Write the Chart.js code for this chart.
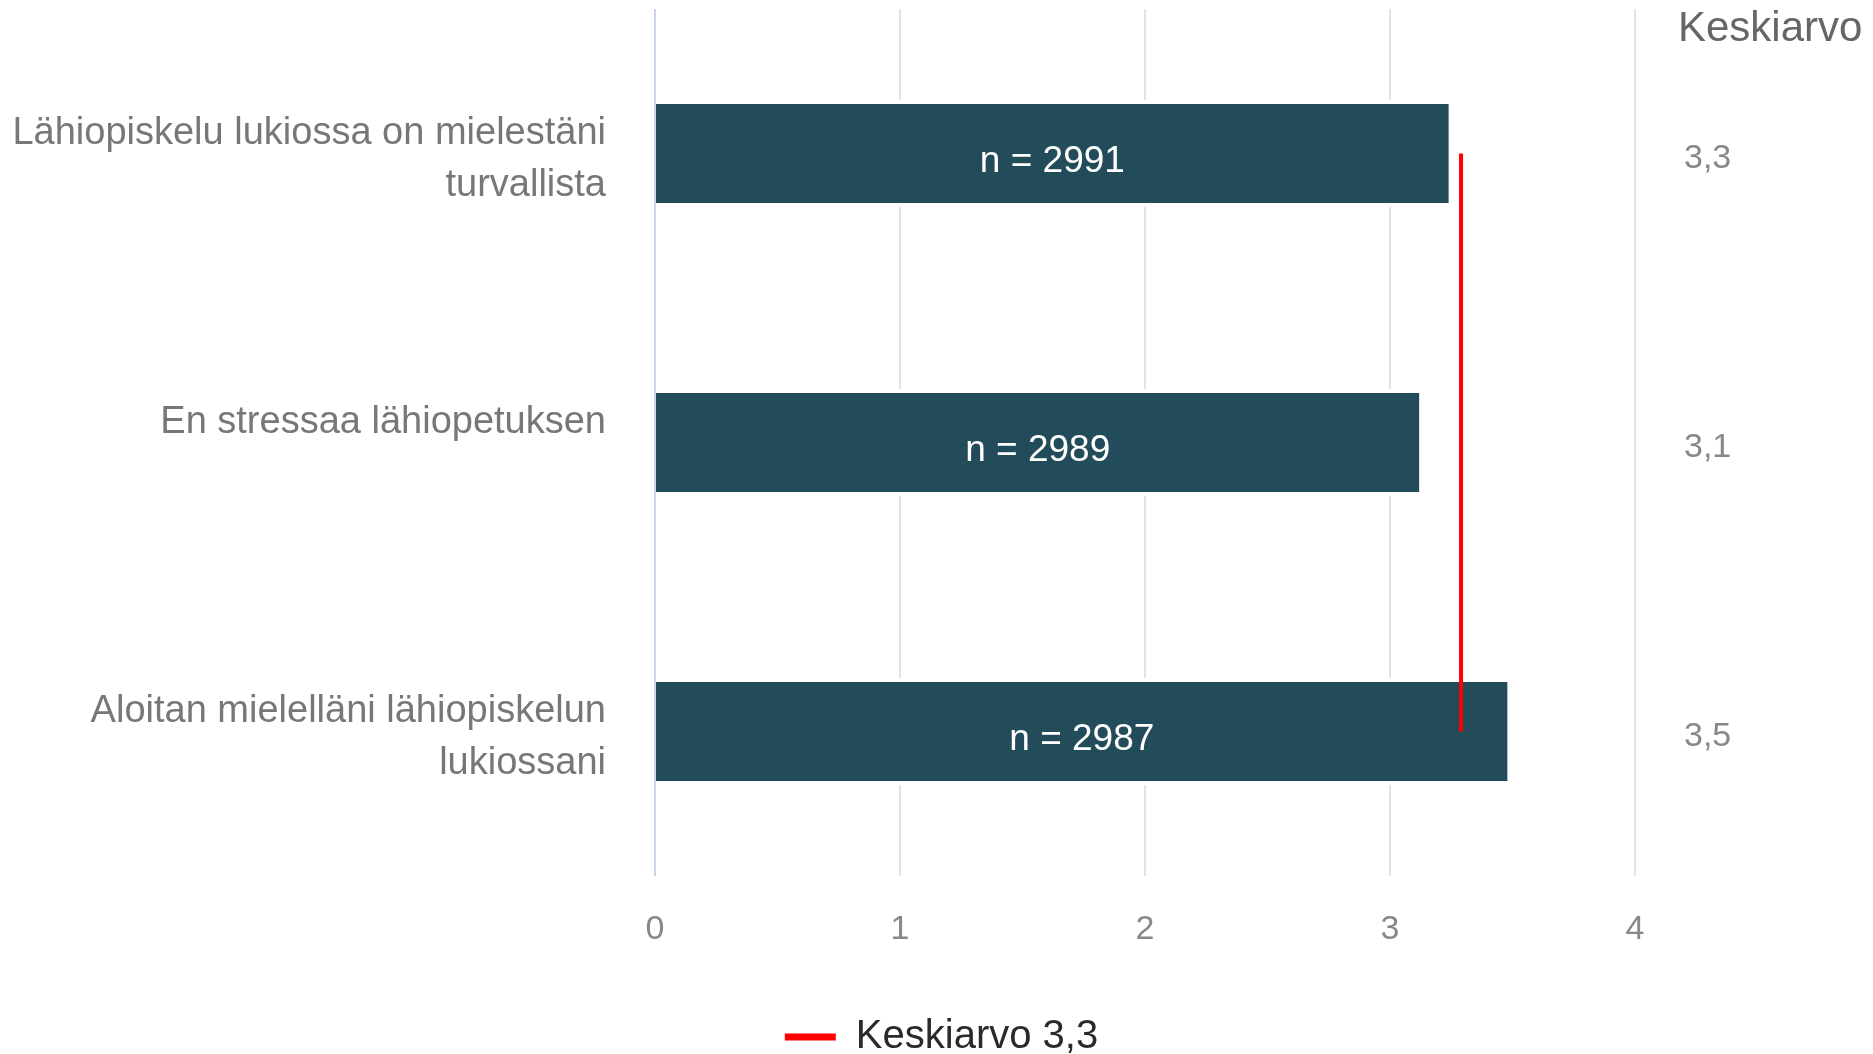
<!DOCTYPE html>
<html>
<head>
<meta charset="utf-8">
<script src="https://cdn.jsdelivr.net/npm/chart.js@4.4.1/dist/chart.umd.min.js"></script>
<style>
  html, body { margin: 0; padding: 0; background: #fff; }
  #wrap { width: 1873px; height: 1054px; position: relative; }
</style>
</head>
<body>
<div id="wrap"><canvas id="kaavio"></canvas></div>
<script>
var kysymykset = [
    ["Lähiopiskelu lukiossa on mielestäni", "turvallista"],
    ["En stressaa lähiopetuksen", ""],
    ["Aloitan mielelläni lähiopiskelun", "lukiossani"]
];
var keskiarvot = [3.24, 3.12, 3.48];
var vastaajat = [2991, 2989, 2987];
var keskiarvoTekstit = ["3,3", "3,1", "3,5"];
var kokonaisKeskiarvo = [3.29, 3.29, 3.29];
var xTicks = [0, 1, 2, 3, 4];

var fontti = "'Liberation Sans', Arial, sans-serif";

// n = ... tekstit palkkien keskelle + Keskiarvo-otsikko oikealle
var nTeksti = {
    id: "nTeksti",
    afterDatasetsDraw: function(chart) {
        var ctx = chart.ctx;
        var meta = chart.getDatasetMeta(1);
        ctx.save();
        ctx.fillStyle = "#ffffff";
        ctx.font = "37px " + fontti;
        ctx.textAlign = "center";
        ctx.textBaseline = "middle";
        meta.data.forEach(function(bar, i) {
            ctx.fillText("n = " + vastaajat[i], (bar.base + bar.x) / 2, bar.y + 8);
        });
        ctx.restore();
    },
    afterDraw: function(chart) {
        var ctx = chart.ctx;
        var s = chart.scales.y2;
        ctx.save();
        ctx.fillStyle = "#666666";
        ctx.font = "42px " + fontti;
        ctx.textAlign = "left";
        ctx.textBaseline = "middle";
        ctx.fillText("Keskiarvo", s.left + 43, 29);
        ctx.restore();
    }
};

function ilmanReunaa(scale) {
    scale.paddingTop = 0;
    scale.paddingBottom = 0;
}

new Chart(document.getElementById("kaavio"), {
    type: "bar",
    data: {
        labels: kysymykset,
        datasets: [
            {
                type: "line",
                label: "Keskiarvo 3,3",
                data: kokonaisKeskiarvo,
                indexAxis: "y",
                borderColor: "#ff0000",
                backgroundColor: "#ff0000",
                borderWidth: 4,
                pointRadius: 0,
                order: 0
            },
            {
                label: "Keskiarvo",
                data: keskiarvot,
                backgroundColor: "#234c5a",
                borderColor: "#ffffff",
                borderWidth: {top: 4, bottom: 4, left: 0, right: 0},
                borderSkipped: false,
                barPercentage: 0.74,
                categoryPercentage: 0.5,
                order: 1
            }
        ]
    },
    options: {
        indexAxis: "y",
        animation: false,
        responsive: true,
        maintainAspectRatio: false,
        layout: { padding: { top: 9, left: 10, right: 0, bottom: -13 } },
        plugins: {
            tooltip: { enabled: false },
            legend: {
                position: "bottom",
                labels: {
                    filter: function(item) { return item.datasetIndex === 0; },
                    generateLabels: function(chart) {
                        var items = Chart.defaults.plugins.legend.labels.generateLabels(chart);
                        items.forEach(function(it) { it.lineWidth = 0; });
                        return items;
                    },
                    boxWidth: 51,
                    boxHeight: 7,
                    padding: 8,
                    color: "#2a2a2a",
                    font: { family: fontti, size: 40 }
                }
            }
        },
        scales: {
            x: {
                min: 0,
                max: 4,
                afterBuildTicks: function(scale) {
                    scale.ticks = xTicks.map(function(v) { return {value: v}; });
                },
                afterFit: function(scale) { scale.height = 133; },
                grid: {
                    drawTicks: false,
                    lineWidth: 2,
                    color: function(c) { return c.index === 0 ? "#c8d4ec" : "#e3e3e3"; }
                },
                border: { display: false },
                ticks: {
                    padding: 33,
                    color: "#888888",
                    font: { family: fontti, size: 34 }
                }
            },
            y: {
                afterFit: function(scale) { scale.width = 645; ilmanReunaa(scale); },
                grid: { display: false },
                border: { display: false },
                ticks: {
                    padding: 41,
                    labelOffset: 6,
                    color: "#777777",
                    font: { family: fontti, size: 38, lineHeight: 1.37 }
                }
            },
            y2: {
                type: "category",
                position: "right",
                labels: keskiarvoTekstit,
                offset: true,
                afterFit: function(scale) { scale.width = 238; ilmanReunaa(scale); },
                grid: { display: false },
                border: { display: false },
                ticks: {
                    padding: 41,
                    labelOffset: 5,
                    color: "#888888",
                    font: { family: fontti, size: 34 }
                }
            }
        }
    },
    plugins: [nTeksti]
});
</script>
</body>
</html>
